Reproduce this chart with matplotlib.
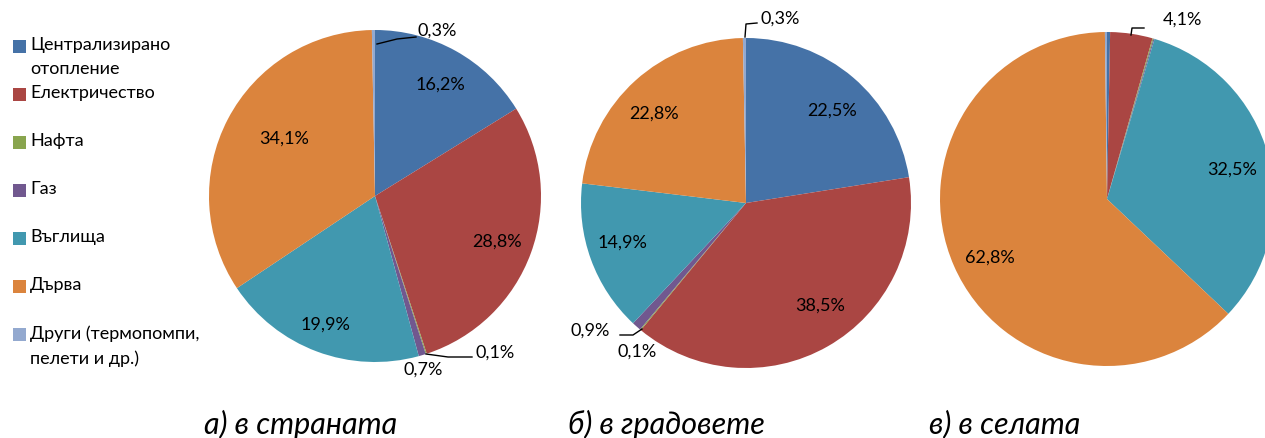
import matplotlib
matplotlib.use("Agg")
import matplotlib.pyplot as plt
from matplotlib.patches import Rectangle

# ---------------- data ----------------
categories = ["Централизирано\nотопление", "Електричество", "Нафта", "Газ",
              "Въглища", "Дърва", "Други (термопомпи,\nпелети и др.)"]
country = [16.2, 28.8, 0.1, 0.7, 19.9, 34.1, 0.3]
towns = [22.5, 38.5, 0.1, 0.9, 14.9, 22.8, 0.3]
villages = [0.3, 4.1, 0.1, 0.1, 32.5, 62.8, 0.2]
country_labels = ["16,2%", "28,8%", "0,1%", "0,7%", "19,9%", "34,1%", "0,3%"]
towns_labels = ["22,5%", "38,5%", "0,1%", "0,9%", "14,9%", "22,8%", "0,3%"]
villages_labels = ["", "4,1%", "", "", "32,5%", "62,8%", ""]
titles = ["а) в страната", "б) в градовете", "в) в селата"]

colors = ["#4572A7", "#AA4643", "#89A54E", "#71588F", "#4198AF", "#DB843D", "#93A9CF"]

W, H = 1265, 439
fig = plt.figure(figsize=(W / 100, H / 100), dpi=100)
ax = fig.add_axes([0, 0, 1, 1])

FONT = "Lato"

# pie layout (pixel coordinates, y down)
pies = [
    dict(vals=country, labels=country_labels, cx=375, cy=197, r=166,
         lab_pos=[(440, 85), (497, 242), (495, 353), (423, 370), (325, 325), (284, 139), (437, 31)]),
    dict(vals=towns, labels=towns_labels, cx=746, cy=204, r=165,
         lab_pos=[(832, 111), (820, 306), (637, 352), (590, 331), (622, 243), (654, 114), (780, 19)]),
    dict(vals=villages, labels=villages_labels, cx=1107, cy=200, r=167,
         lab_pos=[None, (1182, 20), None, None, (1232, 170), (990, 258), None]),
]

leader_lines = [
    [(426, 355), (448, 358), (472, 358)],   # 0,1% country
    [(377, 45), (397, 40), (416, 38)],      # 0,3% country
    [(745, 38), (746, 25), (757, 24)],      # 0,3% towns
    [(642, 330), (633, 336), (620, 336)],   # 0,9% towns
    [(1131, 36), (1132, 29), (1144, 29)],   # 4,1% villages
]

for p in pies:
    wedges, _ = ax.pie(p["vals"], colors=colors, startangle=-90, counterclock=True,
                       center=(p["cx"], p["cy"]), radius=p["r"], frame=True,
                       wedgeprops=dict(linewidth=0))
    for lab, pos in zip(p["labels"], p["lab_pos"]):
        if lab and pos is not None:
            ax.text(pos[0], pos[1], lab, ha="center", va="center", fontsize=13,
                    family=FONT, color="black")

for ln in leader_lines:
    ax.plot([q[0] for q in ln], [q[1] for q in ln], color="black", lw=1)

ax.set_xlim(0, W)
ax.set_ylim(H, 0)
ax.set_aspect("auto")
ax.axis("off")

# titles
for t, x in zip(titles, [301, 666, 1005]):
    ax.text(x, 424, t, ha="center", va="center", fontsize=22, style="italic",
            family=FONT, color="black")

# legend
for i, (lab, c) in enumerate(zip(categories, colors)):
    y = 47 + 48 * i
    ax.add_patch(Rectangle((13, y - 6), 13, 13, facecolor=c, edgecolor="none"))
    ax.text(30, y - 10, lab, ha="left", va="top", fontsize=13, family=FONT,
            linespacing=1.62, color="black")

fig.savefig("out.png", dpi=100)
